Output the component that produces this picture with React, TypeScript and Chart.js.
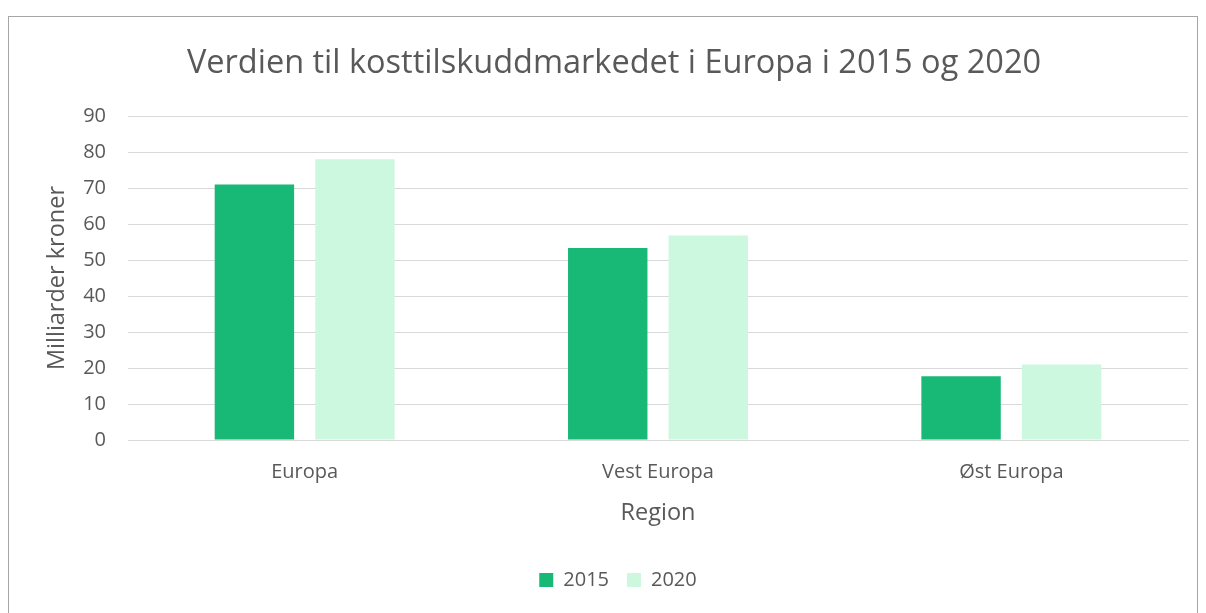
import React, { useEffect, useRef } from "react";
import { Chart, registerables } from "chart.js";

Chart.register(...registerables);

const categories = ["Europa", "Vest Europa", "Øst Europa"];
const series2015 = [71.0, 53.3, 17.7];
const series2020 = [78.0, 56.8, 21.0];
const seriesLabels = ["2015", "2020"];
const yTicks = [0, 10, 20, 30, 40, 50, 60, 70, 80, 90];

const FONT = "Open Sans";
const TEXT = "#595959";

const borderPlugin = {
  id: "outerBorder",
  beforeDraw(chart: any) {
    const ctx = chart.ctx;
    ctx.save();
    ctx.fillStyle = "#ffffff";
    ctx.fillRect(0, 0, chart.width, chart.height);
    ctx.strokeStyle = "#a6a6a6";
    ctx.lineWidth = 1;
    ctx.strokeRect(8.5, 16.5, 1189, 620);
    ctx.restore();
  },
  afterLayout(chart: any) {
    if (chart.legend) {
      chart.legend.left += 24;
      chart.legend.right += 24;
    }
    if (chart.titleBlock) {
      chart.titleBlock.left += 20;
      chart.titleBlock.right += 20;
    }
  },
};

export default function App() {
  const ref = useRef<HTMLCanvasElement | null>(null);
  useEffect(() => {
    if (!ref.current) return;
    const chart = new Chart(ref.current, {
      type: "bar",
      data: {
        labels: categories,
        datasets: [
          { label: seriesLabels[0], data: series2015, backgroundColor: "#18b877" },
          { label: seriesLabels[1], data: series2020, backgroundColor: "#cdf8e0" },
        ],
      },
      plugins: [borderPlugin],
      options: {
        animation: false,
        responsive: false,
        devicePixelRatio: 1,
        layout: { padding: { left: 0, right: 18, top: 0, bottom: 13 } },
        datasets: { bar: { categoryPercentage: 0.569, barPercentage: 0.79 } },
        plugins: {
          title: {
            display: true,
            text: "Verdien til kosttilskuddmarkedet i Europa i 2015 og 2020",
            color: TEXT,
            font: { family: FONT, size: 32.5, weight: "normal" },
            padding: { top: 44.5, bottom: 32.5 },
          },
          legend: {
            position: "bottom",
            labels: {
              color: TEXT,
              font: { family: FONT, size: 20 },
              boxWidth: 14,
              boxHeight: 14,
              padding: 18,
            },
          },
          tooltip: { enabled: false },
        },
        scales: {
          x: {
            afterFit(scale: any) {
              scale.height = 112;
            },
            grid: { display: false, drawTicks: false },
            border: { display: true, color: "#d9d9d9" },
            ticks: { color: TEXT, font: { family: FONT, size: 20 }, padding: 20 },
            title: {
              display: true,
              text: "Region",
              color: TEXT,
              font: { family: FONT, size: 23.5 },
              padding: { top: 10, bottom: 25 },
            },
          },
          y: {
            min: 0,
            max: 90,
            afterBuildTicks(scale: any) {
              scale.ticks = yTicks.map((v) => ({ value: v }));
            },
            afterFit(scale: any) {
              scale.width = 128;
            },
            grid: { color: "#d9d9d9", drawTicks: false },
            border: { display: false },
            ticks: { color: TEXT, font: { family: FONT, size: 20 }, padding: 22 },
            title: {
              display: true,
              text: "Milliarder kroner",
              color: TEXT,
              font: { family: FONT, size: 23.5 },
              padding: { top: 43, bottom: 0 },
            },
          },
        },
      },
    });
    return () => chart.destroy();
  }, []);
  return (
    <canvas
      ref={ref}
      width={1206}
      height={613}
      style={{ position: "fixed", left: 0, top: 0, width: 1206, height: 613 }}
    />
  );
}
